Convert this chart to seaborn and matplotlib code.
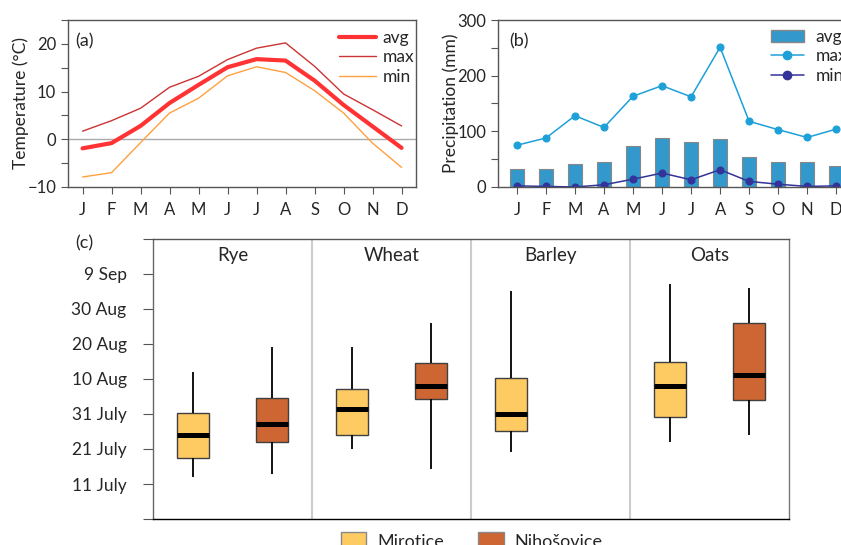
import numpy as np
import pandas as pd
import matplotlib
matplotlib.use("Agg")
import matplotlib.pyplot as plt
import seaborn as sns
from matplotlib.patches import Patch
from matplotlib.lines import Line2D

# ---- data ----
months = ["Jan", "Feb", "Mar", "Apr", "May", "Jun",
          "Jul", "Aug", "Sep", "Oct", "Nov", "Dec"]
month_initials = ["J", "F", "M", "A", "M", "J", "J", "A", "S", "O", "N", "D"]

temp_avg = [-1.9, -0.8, 2.8, 7.6, 11.4, 15.1, 16.8, 16.5, 12.3, 7.2, 2.7, -1.8]
temp_max = [1.7, 3.9, 6.5, 10.9, 13.2, 16.7, 19.1, 20.2, 15.3, 9.5, 6.2, 2.8]
temp_min = [-7.9, -7.0, -0.7, 5.5, 8.6, 13.3, 15.2, 14.0, 10.2, 5.5, -0.8, -5.9]

prec_avg = [32, 32, 41, 44, 73, 88, 80, 86, 54, 44, 44, 38]
prec_max = [75, 88, 128, 107, 163, 182, 162, 251, 118, 103, 89, 104]
prec_min = [2, 1, 0, 4, 14, 25, 13, 31, 10, 5, 1, 2]

crops = ["Rye", "Wheat", "Barley", "Oats"]
sites = ["Mirotice", "Nihošovice"]

# five-number summaries as day of year: low whisker, q1, median, q3, high whisker
rye_mirotice = [194.1, 199.3, 205.9, 212.4, 224.0]
rye_nihosovice = [195.0, 204.0, 209.1, 216.5, 231.1]
wheat_mirotice = [202.1, 205.9, 213.4, 219.0, 231.1]
wheat_nihosovice = [196.2, 216.2, 220.1, 226.5, 238.0]
barley_mirotice = [201.0, 207.0, 212.0, 222.3, 247.0]
oats_mirotice = [204.1, 211.0, 220.1, 226.9, 249.0]
oats_nihosovice = [206.0, 215.9, 223.2, 238.0, 248.0]

date_ticks = [182, 192, 202, 212, 222, 232, 242, 252, 262]
date_labels = ["", "11 July", "21 July", "31 July", "10 Aug",
               "20 Aug", "30 Aug", "9 Sep", ""]

groups = [("Rye", "Mirotice", rye_mirotice),
          ("Rye", "Nihošovice", rye_nihosovice),
          ("Wheat", "Mirotice", wheat_mirotice),
          ("Wheat", "Nihošovice", wheat_nihosovice),
          ("Barley", "Mirotice", barley_mirotice),
          ("Oats", "Mirotice", oats_mirotice),
          ("Oats", "Nihošovice", oats_nihosovice)]
rows = []
for crop, site, vals in groups:
    for v in vals:
        rows.append({"crop": crop, "site": site, "day": v})
harvest = pd.DataFrame(rows)

# ---- style ----
sns.set_style("ticks")
plt.rcParams["font.family"] = ["Lato", "DejaVu Sans"]
plt.rcParams["font.size"] = 12
spine_col = "#555555"

fig = plt.figure(figsize=(8.41, 5.45), dpi=100)
ax1 = fig.add_axes([0.0809, 0.6569, 0.4138, 0.3064])
ax2 = fig.add_axes([0.5922, 0.6569, 0.4245, 0.3064])
ax3 = fig.add_axes([0.1819, 0.0477, 0.7562, 0.5138])

x = np.arange(12)

def minus(v):
    return str(v).replace("-", "\u2212")

# ---- (a) temperature ----
ax1.axhline(0, color="#aaaaaa", lw=1, zorder=1)
sns.lineplot(x=x, y=temp_avg, color="#ff3333", lw=3, ax=ax1)
sns.lineplot(x=x, y=temp_max, color="#cc3333", lw=1, ax=ax1)
sns.lineplot(x=x, y=temp_min, color="#ffa040", lw=1, ax=ax1)
ax1.set_xlim(-0.5, 11.5)
ax1.set_ylim(-10, 25)
yt = np.arange(-10, 26, 5)
ax1.set_yticks(yt)
ax1.set_yticklabels([minus(v) if v % 10 == 0 else "" for v in yt])
ax1.set_xticks(x)
ax1.set_xticklabels(month_initials)
ax1.set_ylabel("Temperature (°C)", fontsize=12.5, labelpad=-1)
ax1.text(0.022, 0.92, "(a)", transform=ax1.transAxes, fontsize=13, va="top")
h1 = [Line2D([], [], color="#ff3333", lw=3),
      Line2D([], [], color="#cc3333", lw=1),
      Line2D([], [], color="#ffa040", lw=1)]
ax1.legend(h1, ["avg", "max", "min"], loc="upper left",
           bbox_to_anchor=(0.735, 1.035), frameon=False, fontsize=12.5,
           handlelength=2.1, labelspacing=0.2, handletextpad=0.4)

# ---- (b) precipitation ----
sns.barplot(x=months, y=prec_avg, color="#3399cc", edgecolor="#888888",
            linewidth=0.8, width=0.5, saturation=1, ax=ax2)
sns.pointplot(x=months, y=prec_max, color="#1ea0d8", markers="o",
              markersize=5, linewidth=1.1, errorbar=None, ax=ax2)
sns.pointplot(x=months, y=prec_min, color="#333399", markers="o",
              markersize=5, linewidth=1.1, errorbar=None, ax=ax2)
ax2.set_xlim(-0.65, 11.65)
ax2.set_ylim(0, 300)
yt2 = np.arange(0, 301, 50)
ax2.set_yticks(yt2)
ax2.set_yticklabels([str(v) if v % 100 == 0 else "" for v in yt2])
ax2.set_xticks(x)
ax2.set_xticklabels(month_initials)
ax2.set_xlabel("")
ax2.set_ylabel("Precipitation (mm)", fontsize=12.5, labelpad=-1)
ax2.text(0.03, 0.92, "(b)", transform=ax2.transAxes, fontsize=13, va="top")
h2 = [Patch(facecolor="#3399cc", edgecolor="#888888"),
      Line2D([], [], color="#1ea0d8", lw=1.1, marker="o", markersize=6),
      Line2D([], [], color="#333399", lw=1.1, marker="o", markersize=6)]
ax2.legend(h2, ["avg", "max", "min"], loc="upper left",
           bbox_to_anchor=(0.72, 1.04), frameon=False, fontsize=12.5,
           handlelength=1.9, labelspacing=0.2, handletextpad=0.7)

for ax in (ax1, ax2):
    for s in ax.spines.values():
        s.set_visible(True)
        s.set_color(spine_col)
        s.set_linewidth(1)
    ax.tick_params(direction="out", length=5, width=0.8, color=spine_col,
                   labelsize=12)
    ax.tick_params(axis="x", pad=6)

# ---- (c) harvest dates ----
palette = {"Mirotice": "#fecb63", "Nihošovice": "#cd6633"}
sns.boxplot(data=harvest, x="crop", y="day", hue="site", order=crops,
            hue_order=sites, palette=palette, whis=(0, 100), width=1.0,
            gap=0.6, linecolor="#404040", linewidth=1, saturation=1,
            medianprops=dict(color="black", linewidth=3.6),
            whiskerprops=dict(color="black", linewidth=1.3),
            showcaps=False, legend=False, ax=ax3)
for xd in (0.5, 1.5, 2.5):
    ax3.axvline(xd, color="#cccccc", lw=1.5, zorder=0)
for i, crop in enumerate(crops):
    ax3.text(i, 257.4, crop, ha="center", va="center", fontsize=13.5)
ax3.set_xlim(-0.5, 3.5)
ax3.set_ylim(182, 262)
ax3.set_yticks(date_ticks)
ax3.set_yticklabels(date_labels)
ax3.set_xticks([])
ax3.set_xlabel("")
ax3.set_ylabel("")
for s in ax3.spines.values():
    s.set_visible(True)
    s.set_linewidth(1)
ax3.spines["left"].set_color("#666666")
ax3.spines["top"].set_color("#555555")
ax3.spines["right"].set_color("#777777")
ax3.spines["bottom"].set_color("black")
ax3.tick_params(axis="y", direction="out", length=7, width=0.8,
                color="#555555", labelsize=12.5, pad=12)
fig.text(0.089, 0.554, "(c)", fontsize=13, ha="left", va="center")

h3 = [Patch(facecolor=palette[s], edgecolor="#888888") for s in sites]
fig.legend(h3, sites, loc="upper center", bbox_to_anchor=(0.561, 0.024),
           ncol=2, frameon=False, fontsize=13, handlelength=1.4,
           handleheight=1.1, handletextpad=0.6, columnspacing=1.9,
           borderaxespad=0, borderpad=0)

fig.savefig("out.png", dpi=100)
